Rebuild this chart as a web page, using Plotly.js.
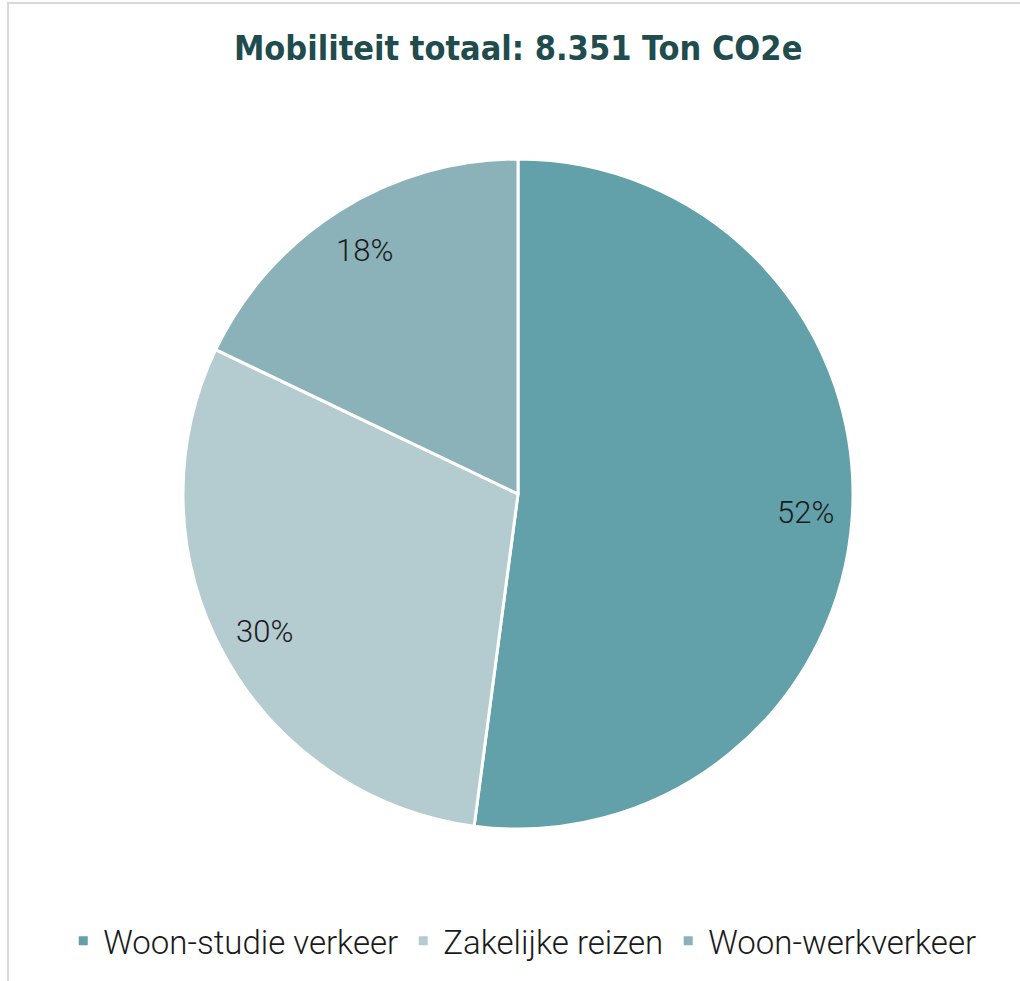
<!DOCTYPE html>
<html>
<head>
<meta charset="utf-8">
<script src="https://cdn.plot.ly/plotly-3.0.1.min.js"></script>
<style>
  html, body { margin: 0; padding: 0; background: #fff; overflow: hidden; }
  #wrap { position: relative; width: 1020px; height: 981px; }
  #frame { position: absolute; left: 7px; top: 2px; width: 1030px; height: 1000px;
           border-left: 2px solid #d9d9d9; border-top: 2px solid #d9d9d9; pointer-events: none; }
  #chart { position: absolute; left: 0; top: 0; width: 1020px; height: 981px; }
</style>
</head>
<body>
<div id="wrap">
  <div id="chart"></div>
  <div id="frame"></div>
</div>
<script>
const titleText = "Mobiliteit totaal: 8.351 Ton CO2e";
const categories = ["Woon-studie verkeer", "Zakelijke reizen", "Woon-werkverkeer"];
const values = [4350, 2505, 1496];
const colors = ["#62a0aa", "#b4cbcf", "#8ab2b8"];

const W = 1020, H = 981;
const domX = [183 / W, 853 / W];
const mT = 159, mB = 152;

const total = values.reduce((a, b) => a + b, 0);
const labelRadius = 0.86; // fraction of pie radius
const annotations = [];
let cum = 0;
values.forEach((v) => {
  const frac = v / total;
  const mid = (cum + frac / 2) * 2 * Math.PI;
  cum += frac;
  annotations.push({
    xref: "paper", yref: "paper",
    x: domX[0] + (domX[1] - domX[0]) * (0.5 + 0.5 * labelRadius * Math.sin(mid)),
    y: 0.5 + 0.5 * labelRadius * Math.cos(mid),
    text: Math.round(frac * 100) + "%",
    showarrow: false,
    xanchor: "center", yanchor: "middle",
    font: { family: "Roboto, sans-serif", size: 31, weight: 300, color: "#1a1a1a" }
  });
});

const data = [{
  type: "pie",
  labels: categories,
  values: values,
  sort: false,
  direction: "clockwise",
  rotation: 0,
  textinfo: "none",
  hoverinfo: "label+value+percent",
  domain: { x: domX, y: [0, 1] },
  marker: { colors: colors, line: { color: "#ffffff", width: 3 } }
}];

const layout = {
  width: W, height: H,
  margin: { l: 0, r: 0, t: mT, b: mB },
  paper_bgcolor: "#ffffff",
  title: {
    text: "<b>" + titleText + "</b>",
    x: 0.508, xref: "container", xanchor: "center",
    y: 0.951, yref: "container", yanchor: "middle",
    font: { family: "'DejaVu Sans Condensed', sans-serif", size: 34, color: "#214c4e" }
  },
  showlegend: true,
  legend: {
    orientation: "h",
    x: 0.512, xref: "container", xanchor: "center",
    y: 0.041, yref: "container", yanchor: "middle",
    font: { family: "Roboto, sans-serif", size: 33, weight: 300, color: "#1a1a1a" },
    itemwidth: 30,
    traceorder: "normal"
  },
  annotations: annotations
};

Plotly.newPlot("chart", data, layout, { displayModeBar: false, staticPlot: true });
</script>
</body>
</html>
